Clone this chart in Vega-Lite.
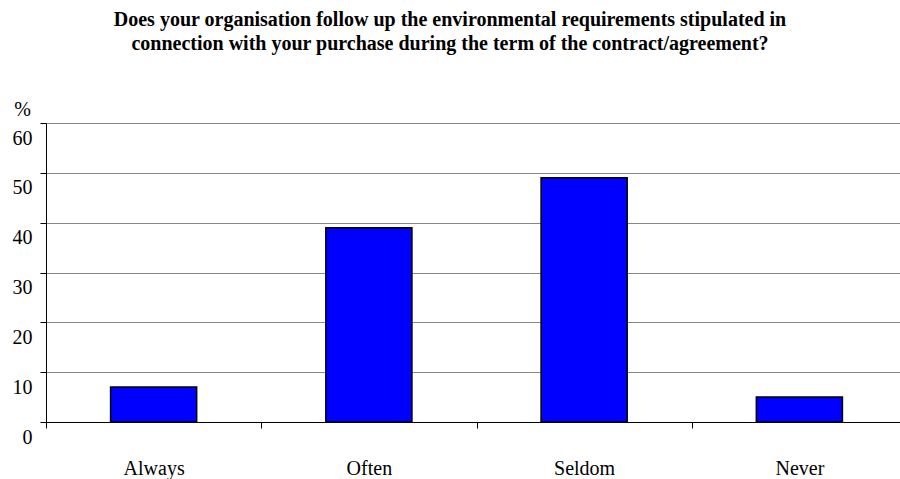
{
  "$schema": "https://vega.github.io/schema/vega-lite/v6.json",
  "width": 854,
  "height": 299,
  "autosize": {"type": "none"},
  "padding": {"left": 46, "top": 123, "right": 0, "bottom": 57},
  "background": "white",
  "title": {
    "text": ["Does your organisation follow up the environmental requirements stipulated in", "connection with your purchase during the term of the contract/agreement?"],
    "font": "Liberation Serif",
    "fontSize": 20,
    "fontWeight": "bold",
    "color": "black",
    "anchor": "middle",
    "frame": "group",
    "dx": -23,
    "lineHeight": 24,
    "offset": 45
  },
  "data": {
    "values": [
      {"category": "Always", "value": 7},
      {"category": "Often", "value": 39},
      {"category": "Seldom", "value": 49},
      {"category": "Never", "value": 5}
    ]
  },
  "mark": {"type": "bar", "color": "#0000FF", "stroke": "black", "strokeWidth": 1.5},
  "encoding": {
    "x": {
      "field": "category",
      "type": "nominal",
      "sort": null,
      "scale": {"range": [0, 861], "paddingInner": 0.6, "paddingOuter": 0.3},
      "axis": {
        "title": null,
        "labelAngle": 0,
        "labelFont": "Liberation Serif",
        "labelFontSize": 20,
        "labelColor": "black",
        "labelPadding": 46,
        "labelBaseline": "alphabetic",
        "tickOffset": -107.6,
        "labelOffset": 107.6,
        "tickSize": 6,
        "tickColor": "black",
        "domainColor": "black"
      }
    },
    "y": {
      "field": "value",
      "type": "quantitative",
      "scale": {"domain": [0, 60], "nice": false},
      "axis": {
        "values": [0, 10, 20, 30, 40, 50, 60],
        "title": "%",
        "titleAngle": 0,
        "titleX": -24,
        "titleY": -8,
        "titleAlign": "center",
        "titleBaseline": "alphabetic",
        "titleFont": "Liberation Serif",
        "titleFontSize": 20,
        "titleFontWeight": "normal",
        "titleColor": "black",
        "labelFont": "Liberation Serif",
        "labelFontSize": 20,
        "labelColor": "black",
        "labelBaseline": "alphabetic",
        "labelOffset": 21,
        "labelPadding": 8,
        "labelFlush": false,
        "labelOverlap": false,
        "tickSize": 6,
        "tickColor": "black",
        "domainColor": "black",
        "grid": true,
        "gridColor": "#888888"
      }
    }
  },
  "config": {"view": {"stroke": null}}
}
